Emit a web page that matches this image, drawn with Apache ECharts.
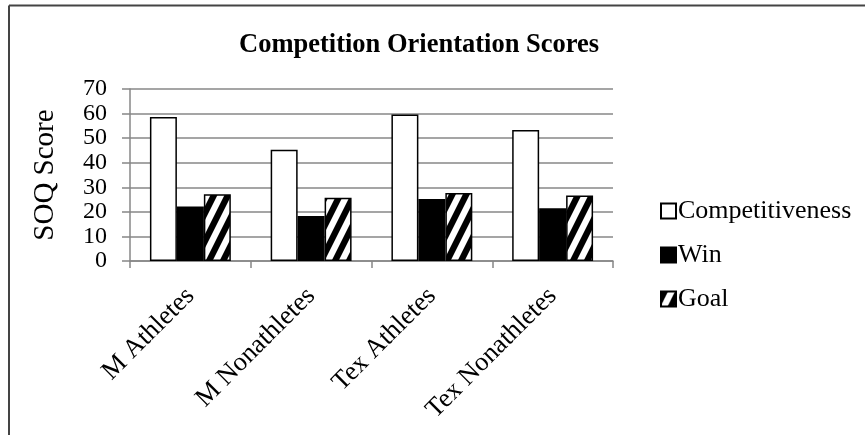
<!DOCTYPE html>
<html>
<head>
<meta charset="utf-8">
<script src="https://cdn.jsdelivr.net/npm/echarts@6/dist/echarts.min.js"></script>
<style>
html,body{margin:0;padding:0;background:#fff;}
#chart{width:865px;height:435px;}
</style>
</head>
<body>
<div id="chart"></div>
<script>
const categories = ['M Athletes', 'M Nonathletes', 'Tex Athletes', 'Tex Nonathletes'];
const competitiveness = [58.6, 45.3, 59.6, 53.3];
const win = [22.2, 18.3, 25.2, 21.5];
const goal = [27.2, 25.7, 27.7, 26.7];
const yTicks = { min: 0, max: 70, interval: 10 };

function makeHatch() {
  const w = 14, h = 28;
  const c = document.createElement('canvas');
  c.width = w; c.height = h;
  const g = c.getContext('2d');
  g.fillStyle = '#fff';
  g.fillRect(0, 0, w, h);
  g.fillStyle = '#000';
  for (let x0 = -28; x0 <= 28; x0 += 14) {
    g.beginPath();
    g.moveTo(x0, h);
    g.lineTo(x0 + 7, h);
    g.lineTo(x0 + 21, 0);
    g.lineTo(x0 + 14, 0);
    g.closePath();
    g.fill();
  }
  return c;
}

const FONT = 'Liberation Serif';
const chart = echarts.init(document.getElementById('chart'), null, { renderer: 'canvas' });
const border = { borderColor: '#000', borderWidth: 1.5 };
chart.setOption({
  backgroundColor: '#fff',
  animation: false,
  title: {
    text: 'Competition Orientation Scores',
    left: 234, top: 27,
    textStyle: { fontFamily: FONT, fontSize: 26.5, fontWeight: 'bold', color: '#000' }
  },
  legend: {
    orient: 'vertical',
    left: 655, top: 193,
    icon: 'rect',
    itemWidth: 15, itemHeight: 15, itemGap: 18,
    textStyle: { fontFamily: FONT, fontSize: 26, color: '#000', padding: [0, 0, 0, -3] },
    data: ['Competitiveness', 'Win', 'Goal']
  },
  grid: { left: 130, right: 252, top: 89, bottom: 174, containLabel: false },
  xAxis: {
    type: 'category',
    data: categories,
    axisLine: { lineStyle: { color: '#878787', width: 1.5 } },
    axisTick: { show: true, length: 7, lineStyle: { color: '#878787', width: 1.5 } },
    axisLabel: { rotate: 45, margin: 31, fontFamily: FONT, fontSize: 26.5, color: '#000', interval: 0 }
  },
  yAxis: {
    type: 'value',
    min: yTicks.min, max: yTicks.max, interval: yTicks.interval,
    name: 'SOQ Score',
    nameLocation: 'middle',
    nameGap: 70,
    nameTextStyle: { fontFamily: FONT, fontSize: 29, color: '#000' },
    axisLine: { show: true, lineStyle: { color: '#878787', width: 1.5 } },
    axisTick: { show: true, length: 8, lineStyle: { color: '#878787', width: 1.5 } },
    splitLine: { lineStyle: { color: '#878787', width: 1.5 } },
    axisLabel: { margin: 23, fontFamily: FONT, fontSize: 24, color: '#000',
      showMinLabel: true, showMaxLabel: true }
  },
  series: [
    { name: 'Competitiveness', type: 'bar', data: competitiveness, barGap: '0%', barCategoryGap: '33%',
      itemStyle: Object.assign({ color: '#fff' }, border) },
    { name: 'Win', type: 'bar', data: win,
      itemStyle: Object.assign({ color: '#000' }, border) },
    { name: 'Goal', type: 'bar', data: goal,
      itemStyle: Object.assign({ color: { image: makeHatch(), repeat: 'repeat' } }, border) }
  ],
  graphic: [
    { type: 'line', shape: { x1: 9, y1: 5.5, x2: 865, y2: 5.5 }, style: { stroke: '#444', lineWidth: 2 } },
    { type: 'line', shape: { x1: 9, y1: 5.5, x2: 9, y2: 435 }, style: { stroke: '#444', lineWidth: 2 } }
  ]
});
</script>
</body>
</html>
